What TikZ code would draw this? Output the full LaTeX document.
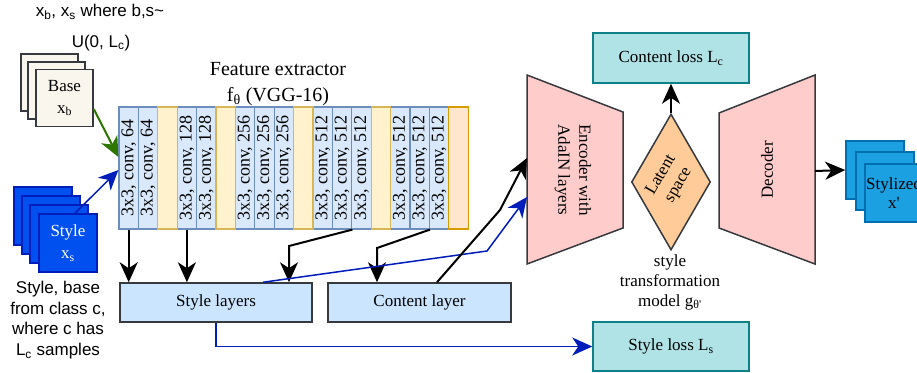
\documentclass[tikz,border=0pt]{standalone}
\usepackage{fontspec}
\setmainfont{Liberation Serif}
\setsansfont{Liberation Sans}
\usetikzlibrary{arrows.meta,shapes.geometric,positioning}

\definecolor{basefill}{HTML}{F9F7ED}
\definecolor{boxline}{HTML}{36393D}
\definecolor{stylefill}{HTML}{0050EF}
\definecolor{styleline}{HTML}{001DBC}
\definecolor{outfill}{HTML}{1BA1E2}
\definecolor{outline}{HTML}{006EAF}
\definecolor{convfill}{HTML}{DAE8FC}
\definecolor{convline}{HTML}{6C8EBF}
\definecolor{poolfill}{HTML}{FFF2CC}
\definecolor{poolline}{HTML}{D6B656}
\definecolor{lastfill}{HTML}{FFE6CC}
\definecolor{lastline}{HTML}{D79B00}
\definecolor{layerfill}{HTML}{CCE5FF}
\definecolor{coderfill}{HTML}{FFCCCC}
\definecolor{latentfill}{HTML}{FFCC99}
\definecolor{lossfill}{HTML}{B0E3E6}
\definecolor{lossline}{HTML}{0E8088}
\definecolor{greenarr}{HTML}{2D7600}
\definecolor{bluearr}{HTML}{001DBC}

\newcommand{\fsz}[2]{\fontsize{#1}{#2}\selectfont}

\tikzset{
    img/.style={line width=1.5pt, minimum size=58pt, inner sep=0pt, align=center, font=\fsz{17}{22}},
    baseimg/.style={img, draw=boxline, fill=basefill, minimum size=57pt},
    styleimg/.style={img, draw=styleline, fill=stylefill, text=white},
    outimg/.style={img, draw=outline, fill=outfill, font=\fsz{17}{19}},
    colblock/.style={line width=1.2pt, minimum width=122pt, minimum height=19.4pt, inner sep=0pt, rotate=90, font=\fsz{18}{18}},
    conv/.style={colblock, draw=convline, fill=convfill},
    pool/.style={colblock, draw=poolline, fill=poolfill},
    lastpool/.style={colblock, draw=lastline, fill=lastfill},
    layer/.style={draw=boxline, fill=layerfill, line width=1.5pt, minimum height=39pt, font=\fsz{17}{20}},
    loss/.style={draw=lossline, fill=lossfill, line width=1.5pt, minimum width=156pt, minimum height=49pt, font=\fsz{17}{20}},
    coder/.style={draw=boxline, fill=coderfill, line width=1.5pt},
    latent/.style={diamond, draw=boxline, fill=latentfill, line width=1.5pt, minimum width=79pt, minimum height=136pt, inner sep=0pt},
    tip/.tip={Stealth[length=20pt, width=18pt, inset=6pt]},
    arr/.style={line width=2pt, -tip},
    blarr/.style={arr, draw=bluearr, line width=1.5pt}
}

\begin{document}
\begin{tikzpicture}[x=1pt, y=-1pt]
    \useasboundingbox (0,0) rectangle (917,372);
    \clip (0,0) rectangle (917,372);

    % sampled images
    \node[font=\sffamily\fsz{17}{20}] (sample) at (100,12) {x\textsubscript{b}, x\textsubscript{s} where b,s\textasciitilde};
    \node[font=\sffamily\fsz{17}{20}] (unif) at (101,43) {U(0, L\textsubscript{c})};
    \foreach \n/\x/\y in {1/49.5/82.5, 2/56.5/90.5}
        \node[baseimg] (base\n) at (\x,\y) {};
    \node[baseimg] (base3) at (64.5,98) {Base\\x\textsubscript{b}};
    \foreach \n/\x/\y in {1/43/216, 2/51/225, 3/59/234}
        \node[styleimg] (sty\n) at (\x,\y) {};
    \node[styleimg] (sty4) at (68,243) {Style\\x\textsubscript{s}};
    \node[font=\sffamily\fsz{17}{20.7}, align=center] (classnote) at (58,320) {Style, base\\from class c,\\where c has\\L\textsubscript{c} samples};

    % feature extractor
    \node[align=center, font=\fsz{20}{26}] (title) at (278,84) {Feature extractor\\f\textsubscript{θ} (VGG-16)};
    \foreach \i/\lab in {1/64, 2/64, 4/128, 5/128, 7/256, 8/256, 9/256, 11/512, 12/512, 13/512, 15/512, 16/512, 17/512}
        \node[conv] (col\i) at ({119+19.4*(\i-0.5)},168) {3x3, conv, \lab};
    \foreach \i in {3, 6, 10, 14}
        \node[pool] (col\i) at ({119+19.4*(\i-0.5)},168) {};
    \node[lastpool] (col18) at ({119+19.4*17.5},168) {};

    \node[layer, minimum width=192pt] (style) at (216,302.5) {Style layers};
    \node[layer, minimum width=183pt] (content) at (419.5,302.5) {Content layer};

    % style transformation model
    \draw[coder] (527,75) -- (623,112) -- (623,228) -- (527,264) -- cycle;
    \node[rotate=-90, align=center, font=\fsz{17}{21}] (enc) at (573,170) {Encoder with\\AdaIN layers};
    \coordinate (encin1) at (527,158);
    \coordinate (encin2) at (527,197);
    \node[latent] (lat) at (671,182) {};
    \node[rotate=60, align=center, font=\fsz{17}{20}] (lattext) at (670,180) {Latent\\space};
    \draw[coder] (719,113) -- (815,75) -- (815,264) -- (719,228) -- cycle;
    \node[rotate=90, font=\fsz{17}{20}] (dec) at (767,170) {Decoder};
    \coordinate (decout) at (815,171);
    \node[align=center, font=\fsz{17}{20}] (gmodel) at (670,282) {style\\transformation\\model g\textsubscript{θ\textquotesingle}};

    \node[loss, minimum height=50pt] (closs) at (671,58) {Content loss L\textsubscript{c}};
    \node[loss] (sloss) at (671,346.5) {Style loss L\textsubscript{s}};

    \foreach \n/\x/\y in {1/875/170, 2/885/181}
        \node[outimg] (out\n) at (\x,\y) {};
    \node[outimg] (out3) at (894,193) {Stylized\\x\textquotesingle};

    % connectors
    \draw[arr, draw=greenarr] ([yshift=-11pt]base3.east) -- ([yshift=11pt]col1.north);
    \draw[blarr] ([xshift=7pt]sty4.north) -- ([yshift=-2pt]col1.north);
    \draw[arr] (col1.west) -- (col1.west |- style.north);
    \draw[arr] (col4.west) -- (col4.west |- style.north);
    \coordinate (bend3) at (289,246);
    \draw[arr] (col12.south west) -- (bend3) -- (bend3 |- style.north);
    \coordinate (bend4) at (377,248);
    \draw[arr] (col16.south west) -- (bend4) -- (bend4 |- content.north);
    \coordinate (bend5) at (487,251);
    \draw[blarr] ([xshift=47pt]style.north) -- (bend5) -- (encin2);
    \coordinate (bend6) at (500,210);
    \draw[arr] ([xshift=17.5pt]content.north) -- (bend6) -- (encin1);
    \draw[blarr] (style.south) |- (sloss.west);
    \draw[arr] (lat.north) -- (closs.south);
    \draw[arr] (decout) -- (out1.west);
\end{tikzpicture}
\end{document}
